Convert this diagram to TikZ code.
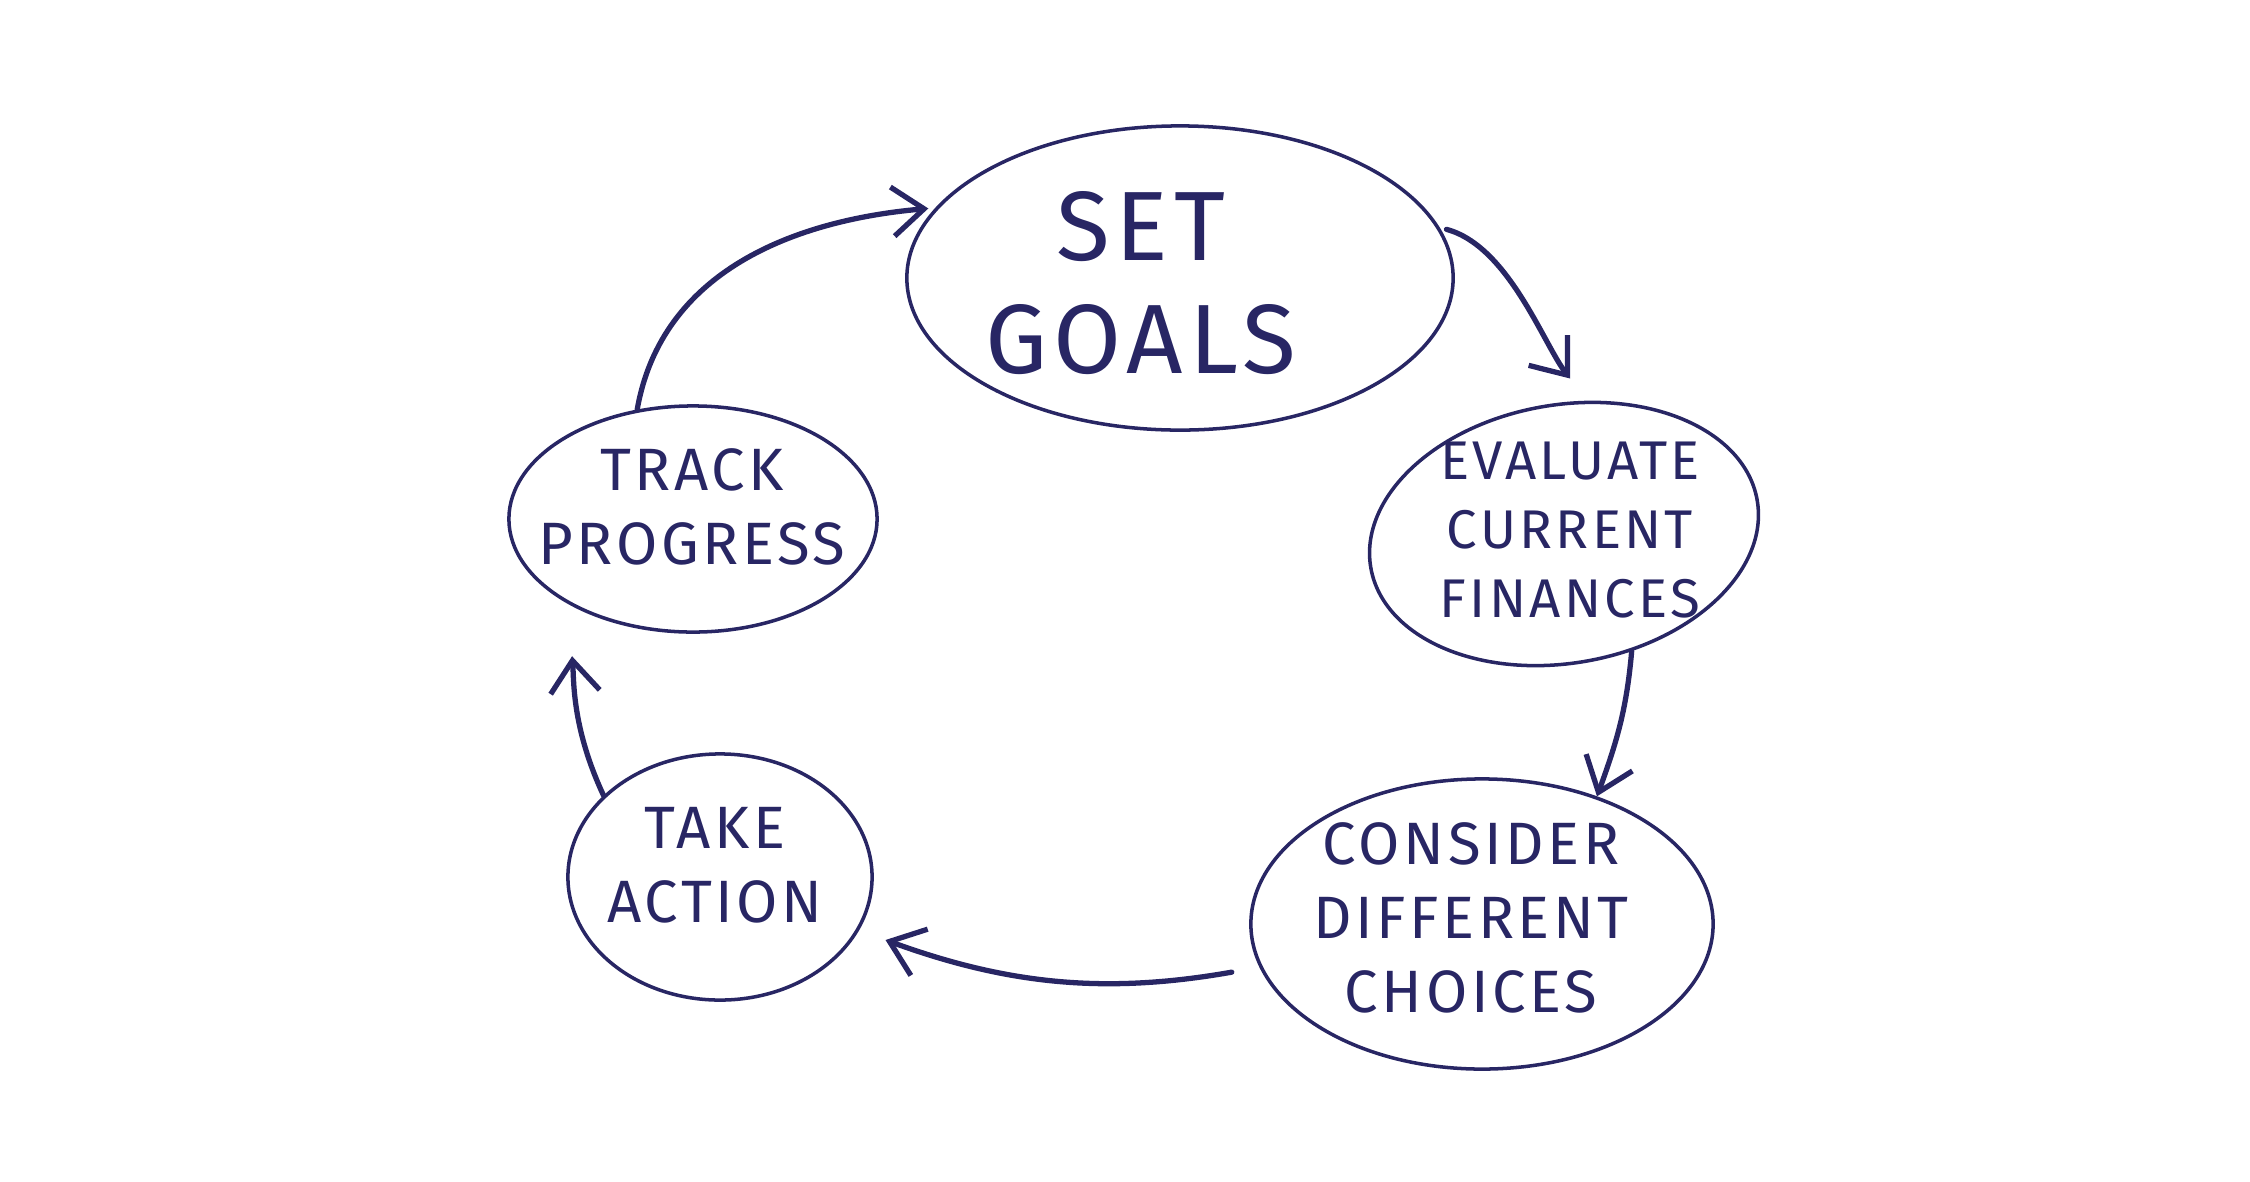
\documentclass[tikz,border=0pt]{standalone}
\usepackage{fontspec}
\setmainfont{Fira Sans}[LetterSpace=6]
\usetikzlibrary{shapes.geometric,arrows.meta}
\definecolor{ink}{RGB}{40,38,100}
\tikzset{
  blob/.style={ellipse,draw=ink,line width=1pt,inner sep=0pt},
  lbl/.style={text=ink,align=center,inner sep=0pt,font=\fontsize{17}{21}\selectfont},
  big/.style={text=ink,align=center,inner sep=0pt,font=\fontsize{28}{32}\selectfont},
  flow/.style={draw=ink,line width=1.5pt,line cap=round,-{Straight Barb[length=9pt,width=14pt,line width=1.5pt]}}
}
\begin{document}
\begin{tikzpicture}[x=0.01cm,y=-0.01cm]
\useasboundingbox (0,0) rectangle (2250,1181);
% ellipses
\node[blob,minimum width=5.46cm,minimum height=3.04cm] (sg) at (1180,278) {};
\node[blob,minimum width=3.92cm,minimum height=2.58cm,rotate=10] (ev) at (1564,534) {};
\node[blob,minimum width=4.62cm,minimum height=2.90cm] (co) at (1482,924) {};
\node[blob,minimum width=3.04cm,minimum height=2.46cm] (ta) at (720,877) {};
\node[blob,minimum width=3.68cm,minimum height=2.26cm] (tr) at (693,519) {};
% texts
\node[big] (sgt) at (1141,283) {SET\\GOALS};
\node[lbl,font=\fontsize{15.5}{19.5}\selectfont] (evt) at (1570,530) {EVALUATE\\CURRENT\\FINANCES};
\node[lbl] (cot) at (1471,918) {CONSIDER\\DIFFERENT\\CHOICES};
\node[lbl] (tat) at (715,865) {TAKE\\ACTION};
\node[lbl] (trt) at (692,507) {TRACK\\PROGRESS};
% connectors
\draw[flow,shorten <=2pt,shorten >=8pt] (sg.11) to[out=-15,in=128,looseness=0.8] (ev.70);
\draw[flow] (ev.-70) to[out=-95,in=70] (co.48);
\draw[flow,shorten <=8pt,shorten >=8pt] (co.-169) to[out=190,in=-20] (ta.-21);
\draw[flow,shorten >=15pt] (ta.145) to[out=115,in=-85] (tr.-146);
\draw[flow,shorten >=2pt] (tr.117) to[out=80,in=185] (sg.164);
\end{tikzpicture}
\end{document}
